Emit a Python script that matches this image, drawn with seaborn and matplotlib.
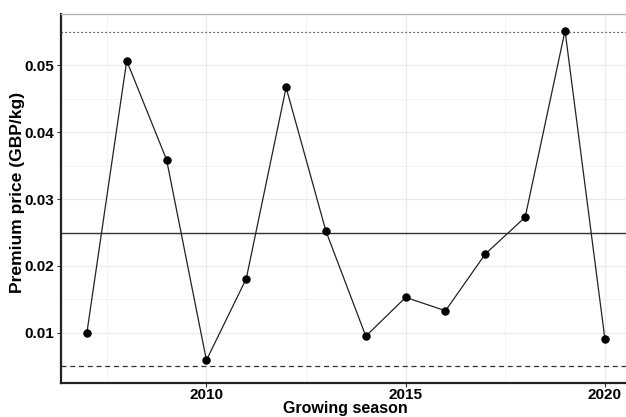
import matplotlib
matplotlib.use("Agg")
import matplotlib.pyplot as plt
import seaborn as sns
import pandas as pd
from matplotlib.ticker import MultipleLocator, FuncFormatter

# Premium price per growing season
seasons = [2007, 2008, 2009, 2010, 2011, 2012, 2013, 2014, 2015, 2016, 2017, 2018, 2019, 2020]
premium = [0.0100, 0.0507, 0.0359, 0.0059, 0.0181, 0.0467, 0.0252, 0.0095,
           0.0153, 0.0133, 0.0218, 0.0273, 0.0552, 0.0091]

# Reference levels
mean_level = 0.025
upper_level = 0.055
lower_level = 0.005

df = pd.DataFrame({"season": seasons, "premium": premium})

sns.set_theme(style="white")
plt.rcParams["font.family"] = ["Liberation Sans", "DejaVu Sans"]

fig = plt.figure(figsize=(6.26, 4.17), dpi=100)
ax = fig.add_axes([0.0974, 0.0815, 0.9026, 0.885])

# grid (major + minor)
ax.xaxis.set_major_locator(MultipleLocator(5))
ax.xaxis.set_minor_locator(MultipleLocator(2.5))
ax.yaxis.set_major_locator(MultipleLocator(0.01))
ax.yaxis.set_minor_locator(MultipleLocator(0.005))
ax.yaxis.set_major_formatter(FuncFormatter(lambda v, p: f"{v:.2f}"))
ax.grid(which="major", color="#ebebeb", linewidth=0.9)
ax.grid(which="minor", color="#f3f3f3", linewidth=0.6)
ax.set_axisbelow(True)

ax.axhline(mean_level, color="#333333", linewidth=1.0, zorder=2)
ax.axhline(upper_level, color="#333333", linewidth=0.9, linestyle=(0, (1, 2.2)), zorder=2)
ax.axhline(lower_level, color="#333333", linewidth=0.9, linestyle=(0, (4, 3)), zorder=2)

sns.lineplot(data=df, x="season", y="premium", ax=ax, color="#222222",
             linewidth=0.9, marker="o", markersize=5.3, markerfacecolor="black",
             markeredgecolor="black", zorder=3)

ax.set_xlim(2006.35, 2020.53)
ax.set_ylim(0.00249, 0.0577)

ax.set_xlabel("Growing season", fontsize=11.5, fontweight="bold", color="black")
ax.xaxis.label.set_va("bottom")
ax.xaxis.set_label_coords(0.504, -0.0905)
ax.set_ylabel("Premium price (GBP/kg)", fontsize=12.6, fontweight="bold", color="black")
ax.yaxis.set_label_coords(-0.0628, 0.516)

ax.tick_params(axis="both", which="major", labelsize=11, length=3, width=0.8,
               color="#333333", labelcolor="black", pad=2, left=True, bottom=True)
ax.tick_params(axis="x", which="major", pad=0.5)
ax.tick_params(axis="both", which="minor", length=0)
for lab in ax.get_xticklabels() + ax.get_yticklabels():
    lab.set_fontweight("bold")

for side in ["left", "bottom"]:
    ax.spines[side].set_color("#222222")
    ax.spines[side].set_linewidth(1.6)
ax.spines["top"].set_color("#b5b5b5")
ax.spines["top"].set_linewidth(1.0)
ax.spines["right"].set_visible(False)

fig.savefig("out.png", dpi=100)
